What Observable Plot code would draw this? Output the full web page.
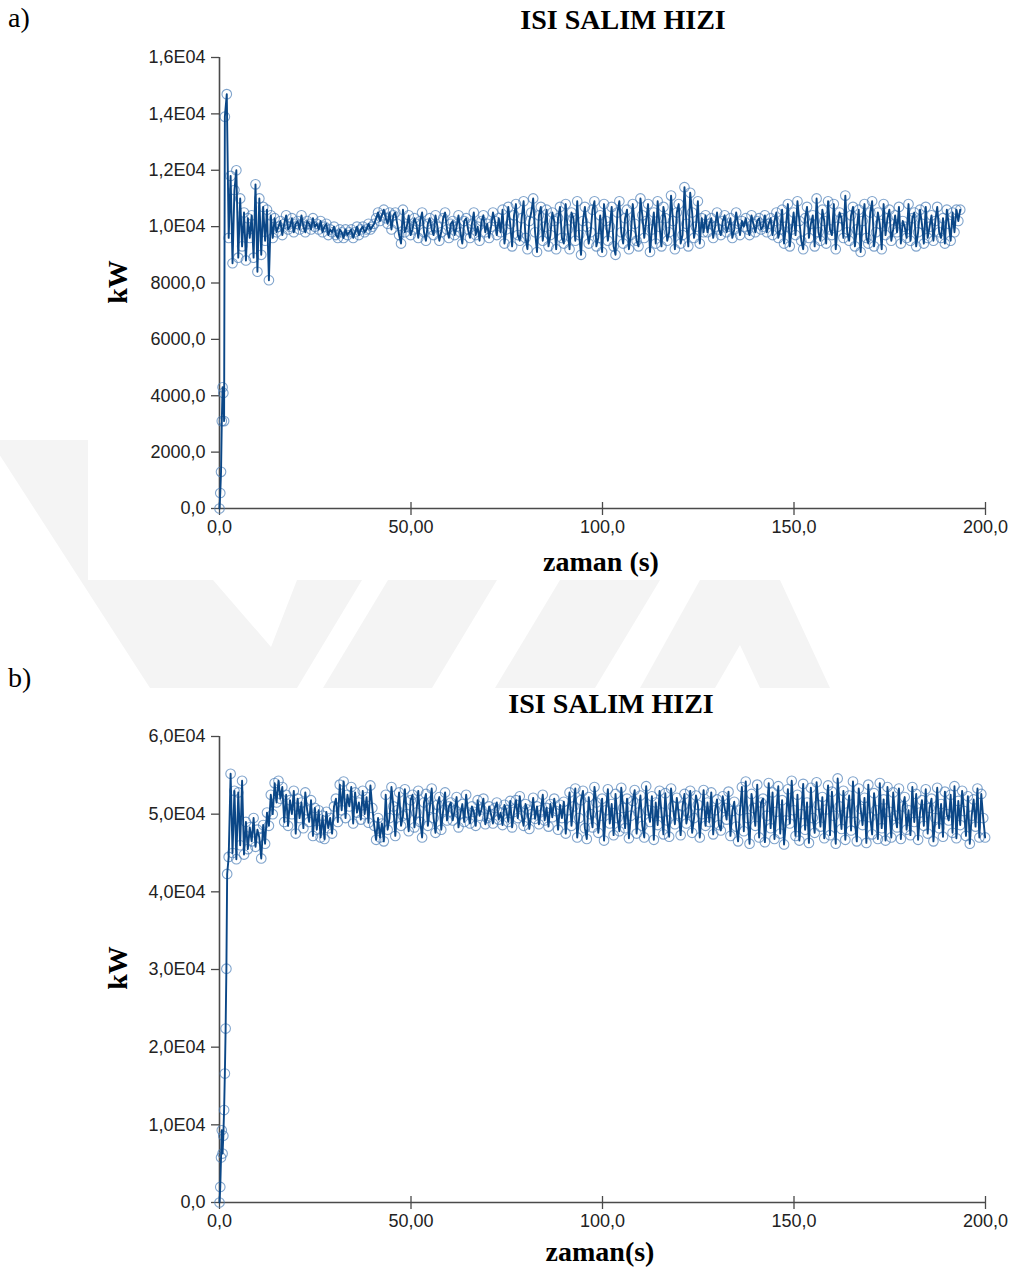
<!DOCTYPE html>
<html>
<head>
<meta charset="utf-8">
<script src="https://cdn.jsdelivr.net/npm/d3@7"></script>
<script src="https://cdn.jsdelivr.net/npm/@observablehq/plot@0.6"></script>
<style>
  body { margin: 0; background: #fff; }
  #page { position: relative; width: 1013px; height: 1272px; overflow: hidden; background: #fff; }
  #logo { position: absolute; left: 0; top: 0; }
  .lbl { position: absolute; white-space: nowrap; color: #000; line-height: 30px; font-size: 28px;
         font-family: "Liberation Serif", "Times New Roman", serif; }
  .bold { font-weight: bold; }
  .center { transform: translateX(-50%); }
  .rot { transform: translate(-50%, -50%) rotate(-90deg); }
  .chart { position: absolute; left: 0; }
</style>
</head>
<body>
<div id="page">
  <!-- faint background logo, visible only between and beside the two figures -->
  <svg id="logo" width="1013" height="1272">
    <defs>
      <clipPath id="logoClip">
        <rect x="0" y="440" width="88" height="140"></rect>
        <rect x="0" y="580" width="1013" height="108"></rect>
      </clipPath>
    </defs>
    <g clip-path="url(#logoClip)" fill="#f4f4f4">
      <polygon points="-10,440 110,440 213,580 271,647 297,580 362,580 297,688 150,688"></polygon>
      <polygon points="388,580 497,580 432,688 323,688"></polygon>
      <polygon points="560,580 660,580 595,688 495,688"></polygon>
      <polygon points="700,580 780,580 830,688 760,688 740,645 715,688 640,688"></polygon>
    </g>
  </svg>

  <div class="lbl" style="left:8px;top:3px;">a)</div>
  <div class="lbl bold center" style="left:623px;top:5px;">ISI SALIM HIZI</div>
  <div class="lbl bold rot" style="left:118px;top:282px;">kW</div>
  <div class="lbl bold center" style="left:601px;top:547px;">zaman (s)</div>
  <div id="chartA" class="chart" style="top:0px;"></div>

  <div class="lbl" style="left:8px;top:663px;">b)</div>
  <div class="lbl bold center" style="left:611px;top:689px;">ISI SALIM HIZI</div>
  <div class="lbl bold rot" style="left:118px;top:968px;">kW</div>
  <div class="lbl bold center" style="left:600px;top:1237px;">zaman(s)</div>
  <div id="chartB" class="chart" style="top:700px;"></div>
</div>
<script>
// ---- Axis ticks and their printed labels ----
const xTicks = [0, 50, 100, 150, 200];
const xTickLabels = ["0,0", "50,00", "100,0", "150,0", "200,0"];

const yTicksA = [0, 2000, 4000, 6000, 8000, 10000, 12000, 14000, 16000];
const yTickLabelsA = ["0,0", "2000,0", "4000,0", "6000,0", "8000,0", "1,0E04", "1,2E04", "1,4E04", "1,6E04"];

const yTicksB = [0, 10000, 20000, 30000, 40000, 50000, 60000];
const yTickLabelsB = ["0,0", "1,0E04", "2,0E04", "3,0E04", "4,0E04", "5,0E04", "6,0E04"];

// ---- a) heat release rate, kW ----
// ignition ramp (irregular output times, s)
const rampTimeA = [0, 0.2, 0.4, 0.6, 0.8, 1.0, 1.2];
const rampHeatA = [0, 550, 1300, 3100, 4300, 4100, 3100];
// steady output, every 0.5 s from 1.4 s
const startA = 1.4, stepA = 0.5;
const heatA = [
  13900, 14700, 9600, 11800, 8700, 11300, 12000, 8900, 11000, 9300, 10500, 8800, 10300, 9600, 10400, 8900,
  11500, 8400, 11000, 9000, 10700, 9500, 10600, 8100, 10400, 9600,
  10300, 9800, 10000, 10200, 9700, 10100, 10400, 9900, 10000, 10300,
  9800, 10100, 10200, 9900, 10400, 10000, 9800, 10200, 10100, 9900,
  10300, 10000, 10100, 9900, 10200, 9800, 10000, 10100, 9700, 9900,
  9800, 10000, 9700, 9600, 9900, 9800, 9600, 9900, 9700, 9800,
  9900, 9600, 9800, 10000, 9700, 9900, 10000, 9800, 9900, 10100,
  9900, 10000, 10100,
  10300, 10500, 10200, 10400, 10600, 10300, 10100, 10500, 9900, 10400, 10500, 10100, 9700, 9400,
  10600, 9800, 10000, 10400, 9700, 9900, 10300, 10100, 9600, 10200,
  10500, 9800, 9500, 10100, 10300, 9900, 9700, 10400, 10000, 9500,
  9800, 10300, 10500, 9900, 9600, 10100, 10200, 9700, 10000, 10400,
  9800, 9400, 10200, 10300, 9900, 9600, 10100, 10500, 9700, 10000,
  9500, 10200, 10400, 9800, 10100, 9600, 10000, 10500, 10200, 9700,
  10300, 9800,
  10600, 9400, 9900, 10700, 10100, 9300, 10400, 10800, 9700, 9500,
  10300, 10900, 9600, 9200, 10200, 10500, 11000, 9800, 9100, 10400,
  10700, 9500, 10000, 10600, 9300, 9700, 10500, 10200, 9200, 10300,
  10700, 9600, 9400,
  10800, 9900, 9200, 10500, 10300, 9500, 10900, 9700, 9000, 10200,
  10700, 10000, 9400, 9800, 10600, 10900, 9300, 9600, 10400, 9100,
  10800, 10200, 9500, 10000, 10700, 9300, 9000, 10500, 10900, 9800,
  9400, 10300, 10600, 9200, 9700, 10800, 10100, 9500, 9300, 11000,
  10400, 9600, 10200, 10800, 9100, 9900, 10500, 9400, 10900, 10000,
  9300, 10700, 10300, 9500, 9800, 11100, 10200, 9200, 10500, 10800,
  9400, 9700, 11400, 10100, 9300, 11200, 10500, 9600, 10000, 10900,
  9400, 10300, 9800,
  10400, 9800, 10100, 10300, 9600, 10000, 10500, 9900, 9700, 10200,
  10400, 9800, 10000, 10300, 9600, 9900, 10500, 10100, 9700, 10200,
  10000, 10300, 9900, 9700, 10400, 10100, 9800, 10200, 10300, 9900,
  10000, 10400, 9800, 10100, 10300, 9700, 10200, 10500, 9600, 9900,
  10600, 9400, 10000, 10800, 9300, 9900, 10500, 9700, 10900, 10200,
  9500, 9200, 10300, 10700, 9600, 10100, 10400, 9300, 11000, 9800,
  9500, 10600, 10200, 9400, 10900, 9900, 9700, 10800, 9200, 10000,
  10500, 10300, 9600, 11100, 9800, 9500, 10400, 10700, 9300, 9900,
  10600, 9100, 10200, 10800, 9600, 9400, 10500, 10900,
  9300, 9800, 10500, 10100, 9200, 10800, 9700, 10300, 10600, 9500,
  9900, 10400, 9800, 10700, 9400, 10200, 10000, 9600, 10800, 9500,
  10300, 10500, 9300, 9800, 10600, 10100, 9400, 10700, 9600, 10000,
  10400, 9500, 10200, 10700, 9800, 9600, 10300, 9400, 10600, 10100,
  9500, 10500, 9800, 10600, 10200, 10600
];

// ---- b) heat release rate, kW ----
const rampTimeB = [0, 0.2, 0.4, 0.6, 0.8, 1.0, 1.2, 1.4, 1.6, 1.8, 2.0];
const rampHeatB = [0, 2000, 5800, 9300, 6300, 8600, 11900, 16600, 22400, 30100, 42300];
const startB = 2.4, stepB = 0.5;
const heatB = [
  44500, 55200, 45000, 53000, 44200, 52800, 46000, 54300,
  44800, 49000, 45500, 48300, 46500, 49500, 45800, 48000, 47000, 44300, 48600, 46200,
  50200, 48500, 52500, 50000, 54000, 51500, 54300, 52000,
  53500, 49000, 52500, 48500, 51800, 50000, 53000, 47500, 52000, 49500,
  51500, 48200, 52800, 50500, 49000, 51800, 47200, 50800,
  48000, 50500, 47000, 49800, 46800, 50300, 48200, 49500, 47500, 51000,
  52000, 49000, 53800, 50500, 54200, 49500, 52500, 51000, 53500, 48800,
  52800, 50200, 51500, 49300, 53000, 50000, 52200, 48900, 53700, 50800,
  48500, 46700, 49500, 47000, 48800, 46500,
  52500, 48000, 49500, 53500, 51000, 47200, 50500, 52800, 48500, 49800,
  53200, 50000, 47800, 51800, 52500, 48300, 50200, 53000, 49000, 47000,
  51500, 52600, 48500, 50800, 53300, 49500, 47600, 51200, 52200, 48000,
  50500, 52800, 49200, 51000,
  51500, 49200, 50500, 52200, 48300, 50000, 51300, 49000, 52500, 50200,
  48800, 51000, 50300, 48500, 51800, 49800, 50600, 52000, 48700, 49500,
  51000, 50000, 48800, 50800, 51500, 49300, 50200, 48600, 51200, 50500,
  49000, 51700, 48300, 50300, 51800, 49500, 52300, 49800, 48500, 51300,
  50600, 48100, 50000, 52100, 49400, 51000, 48700, 50500, 52500, 49200,
  50800, 48400, 51300, 49600, 52000, 50400, 48000, 51200, 49500, 51600,
  47500, 50500, 52800, 48500, 51000, 53300, 47000, 49500, 51800, 53000,
  48200, 46800, 52200, 50000, 48300, 53500, 51500, 47600, 49800, 52000,
  46600, 50500, 53200, 48800, 51300, 47300, 52600, 49500, 47800, 53400,
  50800, 48200, 52000, 46900, 49800, 51700, 53100, 47500, 50200, 52400,
  48500, 47000, 53600, 50500, 49000, 52300, 46700, 51500, 48600, 53000,
  50200, 47400, 52700, 49200, 47100, 53300, 51000, 48700, 52100, 50000,
  47300, 51000, 52600, 48800, 50200, 53000, 47600, 49500, 52400, 51200,
  47000, 50000, 53100, 48500, 51500, 49000, 52800, 47400, 50500, 51900,
  48600, 47900, 52300, 50800, 49300, 52900, 47200, 50400, 51600, 48400,
  46500, 50500, 53500, 47800, 54200, 49500, 46200, 52600, 50800, 48500,
  53800, 47000, 51500, 52000, 46400, 49800, 54000, 48200, 52800, 46800,
  50300, 53600, 47500, 51800, 46100, 49200, 53200, 48800, 54300, 50500,
  47200, 52500, 46600, 50000, 53900, 48000, 51500, 46300, 53400, 49500,
  47600, 54100, 51200, 48400, 52200, 46900, 50600, 53700, 47300, 52900,
  49800, 46200, 54600, 51000, 48100, 53000, 46700, 50200, 52400, 47900,
  54200, 49000, 46500, 53300, 50700, 48600, 52100, 46300, 53800, 49600,
  47400, 52700, 50500, 46800, 54000, 48200, 51900, 46600, 53500, 50300,
  47000, 52800, 49800, 48300, 53300, 46800, 51000, 52200, 48000, 50500,
  47300, 53500, 49000, 52600, 46700, 50200, 51800, 48500, 53200, 47500,
  50800, 52000, 46500, 49500, 53400, 48200, 51300, 47100, 52900, 50000,
  49200, 52500, 47600, 53600, 46900, 51700, 48600, 53000, 50400, 47200,
  52300, 46200, 49800, 51900, 48400, 53300, 47000, 52600, 49500, 47000
];

// ---- build records ----
function series(rampT, rampV, start, step, values) {
  const rows = rampT.map((t, i) => ({t, kw: rampV[i]}));
  values.forEach((v, i) => rows.push({t: +(start + i * step).toFixed(2), kw: v}));
  return rows;
}
const dataA = series(rampTimeA, rampHeatA, startA, stepA, heatA);
const dataB = series(rampTimeB, rampHeatB, startB, stepB, heatB);

const LINE = "#0b4787";
const RING = "#4a7db6";
const AXIS = "#4a4a4a";

function chart(data, yMax, yTicks, yLabels, height, marginTop, marginBottom) {
  return Plot.plot({
    width: 1013,
    height,
    marginLeft: 219,
    marginRight: 28,
    marginTop,
    marginBottom,
    style: {fontFamily: "'Liberation Sans', Arial, sans-serif", fontSize: "18px", color: "#222", background: "transparent", overflow: "visible"},
    x: {domain: [0, 200]},
    y: {domain: [0, yMax]},
    marks: [
      // x ticks cross the axis line
      Plot.axisX({ticks: xTicks, tickSize: 13, dy: -6, tickFormat: () => "", stroke: AXIS, strokeWidth: 1.3, label: null}),
      Plot.axisX({ticks: xTicks, tickSize: 0, tickPadding: 12, tickFormat: (d) => xTickLabels[xTicks.indexOf(d)], label: null, fill: "#222"}),
      Plot.axisY({ticks: yTicks, tickSize: 8, tickPadding: 6, tickFormat: (d) => yLabels[yTicks.indexOf(d)], stroke: AXIS, strokeWidth: 1.3, label: null, fill: "#222"}),
      Plot.ruleX([0], {stroke: AXIS, strokeWidth: 1.6}),
      Plot.ruleY([0], {stroke: AXIS, strokeWidth: 1.6}),
      Plot.dot(data, {x: "t", y: "kw", r: 4.8, stroke: RING, strokeWidth: 1.1, strokeOpacity: 0.7, fill: "none"}),
      Plot.line(data, {x: "t", y: "kw", stroke: LINE, strokeWidth: 1.9})
    ]
  });
}

document.getElementById("chartA").append(chart(dataA, 16000, yTicksA, yTickLabelsA, 560, 57, 52));
document.getElementById("chartB").append(chart(dataB, 60000, yTicksB, yTickLabelsB, 540, 36, 38));
</script>
</body>
</html>
